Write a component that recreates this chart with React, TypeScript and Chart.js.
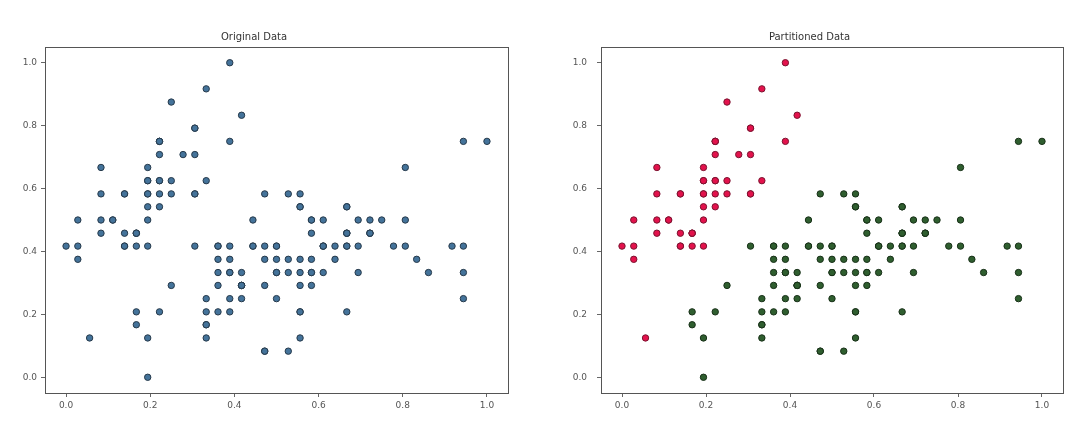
import React, { useEffect, useRef } from "react";
import { Chart, registerables } from "chart.js";

Chart.register(...registerables);

// Cluster A (red in partitioned plot) — normalized sepal length / width
const clusterAX = [
  0.222, 0.167, 0.111, 0.083, 0.194, 0.306, 0.083, 0.194, 0.028, 0.167,
  0.306, 0.139, 0.139, 0.0, 0.417, 0.389, 0.306, 0.222, 0.389, 0.222,
  0.306, 0.222, 0.083, 0.222, 0.139, 0.194, 0.194, 0.25, 0.25, 0.111,
  0.139, 0.306, 0.25, 0.333, 0.167, 0.194, 0.333, 0.167, 0.028, 0.222,
  0.194, 0.056, 0.028, 0.194, 0.222, 0.139, 0.222, 0.083, 0.278, 0.194,
];
const clusterAY = [
  0.625, 0.417, 0.5, 0.458, 0.667, 0.792, 0.583, 0.583, 0.375, 0.458,
  0.708, 0.583, 0.417, 0.417, 0.833, 1.0, 0.792, 0.625, 0.75, 0.75,
  0.583, 0.708, 0.667, 0.542, 0.583, 0.417, 0.583, 0.625, 0.583, 0.5,
  0.458, 0.583, 0.875, 0.917, 0.458, 0.5, 0.625, 0.458, 0.417, 0.583,
  0.625, 0.125, 0.5, 0.625, 0.75, 0.417, 0.75, 0.5, 0.708, 0.542,
];

// Cluster B (green in partitioned plot)
const clusterBX = [
  0.75, 0.583, 0.722, 0.333, 0.611, 0.389, 0.556, 0.167, 0.639, 0.25,
  0.194, 0.444, 0.472, 0.5, 0.361, 0.667, 0.361, 0.417, 0.528, 0.361,
  0.444, 0.5, 0.556, 0.5, 0.583, 0.639, 0.694, 0.667, 0.472, 0.389,
  0.333, 0.333, 0.417, 0.472, 0.306, 0.472, 0.667, 0.556, 0.361, 0.333,
  0.333, 0.5, 0.417, 0.194, 0.361, 0.389, 0.389, 0.528, 0.222, 0.389,
  0.556, 0.417, 0.778, 0.556, 0.611, 0.917, 0.167, 0.833, 0.667, 0.806,
  0.611, 0.583, 0.694, 0.389, 0.417, 0.583, 0.611, 0.944, 0.944, 0.472,
  0.722, 0.361, 0.944, 0.556, 0.667, 0.806, 0.528, 0.5, 0.583, 0.806,
  0.861, 1.0, 0.583, 0.556, 0.5, 0.944, 0.556, 0.583, 0.472, 0.722,
  0.667, 0.722, 0.417, 0.694, 0.667, 0.667, 0.556, 0.611, 0.528, 0.444,
];
const clusterBY = [
  0.5, 0.5, 0.458, 0.125, 0.333, 0.333, 0.542, 0.167, 0.375, 0.292,
  0.0, 0.417, 0.083, 0.375, 0.375, 0.458, 0.417, 0.292, 0.083, 0.208,
  0.5, 0.333, 0.208, 0.333, 0.375, 0.417, 0.333, 0.417, 0.375, 0.25,
  0.167, 0.167, 0.292, 0.292, 0.417, 0.583, 0.458, 0.125, 0.417, 0.208,
  0.25, 0.417, 0.25, 0.125, 0.292, 0.417, 0.375, 0.375, 0.208, 0.333,
  0.542, 0.292, 0.417, 0.375, 0.417, 0.417, 0.208, 0.375, 0.208, 0.667,
  0.5, 0.292, 0.417, 0.208, 0.333, 0.5, 0.417, 0.75, 0.25, 0.083,
  0.5, 0.333, 0.333, 0.292, 0.542, 0.5, 0.333, 0.417, 0.333, 0.417,
  0.333, 0.75, 0.333, 0.333, 0.25, 0.417, 0.583, 0.458, 0.417, 0.458,
  0.458, 0.458, 0.292, 0.5, 0.542, 0.417, 0.208, 0.417, 0.583, 0.417,
];

const tickValues = [0.0, 0.2, 0.4, 0.6, 0.8, 1.0];
const titles = ["Original Data", "Partitioned Data"];

const toPts = (xs: number[], ys: number[]) => xs.map((x, i) => ({ x, y: ys[i] }));

const boxPlugin = {
  id: "box",
  afterDraw(chart: any) {
    const { ctx, chartArea: a } = chart;
    ctx.save();
    ctx.strokeStyle = "#555";
    ctx.lineWidth = 1;
    ctx.strokeRect(Math.round(a.left) + 0.5, Math.round(a.top) + 0.5, Math.round(a.right - a.left), Math.round(a.bottom - a.top));
    ctx.restore();
  },
};

function makeConfig(title: string, datasets: any[], yWidth: number, padLeft: number, padRight: number, yPad: number) {
  const tickFont = { family: "DejaVu Sans", size: 9 };
  const setTicks = (axis: any) => {
    axis.ticks = tickValues.map((v) => ({ value: v }));
  };
  return {
    type: "scatter" as const,
    data: { datasets },
    options: {
      animation: false as const,
      responsive: false,
      events: [],
      layout: { padding: { left: padLeft, right: padRight, top: 0, bottom: 0 } },
      plugins: {
        legend: { display: false },
        tooltip: { enabled: false },
        title: {
          display: true,
          text: title,
          color: "#333",
          font: { family: "DejaVu Sans", size: 10, weight: "normal" as const },
          padding: { top: 31, bottom: 4 },
        },
      },
      scales: {
        x: {
          type: "linear" as const,
          min: -0.05,
          max: 1.05,
          afterBuildTicks: setTicks,
          afterFit: (axis: any) => {
            axis.height = 31;
          },
          ticks: {
            font: tickFont,
            color: "#555",
            padding: 3,
            maxRotation: 0,
            callback: (v: any) => Number(v).toFixed(1),
          },
          grid: { drawOnChartArea: false, drawTicks: true, tickLength: 4, color: "#666" },
          border: { display: false },
        },
        y: {
          type: "linear" as const,
          min: -0.05,
          max: 1.05,
          afterBuildTicks: setTicks,
          afterFit: (axis: any) => {
            axis.width = yWidth;
          },
          ticks: {
            font: tickFont,
            color: "#555",
            padding: yPad,
            callback: (v: any) => Number(v).toFixed(1),
          },
          grid: { drawOnChartArea: false, drawTicks: true, tickLength: 4, color: "#666" },
          border: { display: false },
        },
      },
    },
    plugins: [boxPlugin],
  };
}

export default function App() {
  const leftRef = useRef<HTMLCanvasElement>(null);
  const rightRef = useRef<HTMLCanvasElement>(null);

  useEffect(() => {
    const pt = { pointRadius: 3.2, borderWidth: 1 };
    const left = new Chart(
      leftRef.current!,
      makeConfig(
        titles[0],
        [
          {
            data: [...toPts(clusterAX, clusterAY), ...toPts(clusterBX, clusterBY)],
            backgroundColor: "#44739a",
            borderColor: "#26394a",
            ...pt,
          },
        ],
        45,
        0,
        32,
        4
      ) as any
    );
    const right = new Chart(
      rightRef.current!,
      makeConfig(
        titles[1],
        [
          {
            data: toPts(clusterAX, clusterAY),
            backgroundColor: "#e3124c",
            borderColor: "#7a1430",
            ...pt,
          },
          {
            data: toPts(clusterBX, clusterBY),
            backgroundColor: "#2f5e2f",
            borderColor: "#183018",
            ...pt,
          },
        ],
        45,
        16,
        17,
        10
      ) as any
    );
    return () => {
      left.destroy();
      right.destroy();
    };
  }, []);

  return (
    <div style={{ position: "absolute", left: 0, top: 0, width: 1080, height: 424, background: "#fff" }}>
      <canvas ref={leftRef} width={540} height={424} style={{ position: "absolute", left: 0, top: 0, width: 540, height: 424 }} />
      <canvas ref={rightRef} width={540} height={424} style={{ position: "absolute", left: 540, top: 0, width: 540, height: 424 }} />
    </div>
  );
}
